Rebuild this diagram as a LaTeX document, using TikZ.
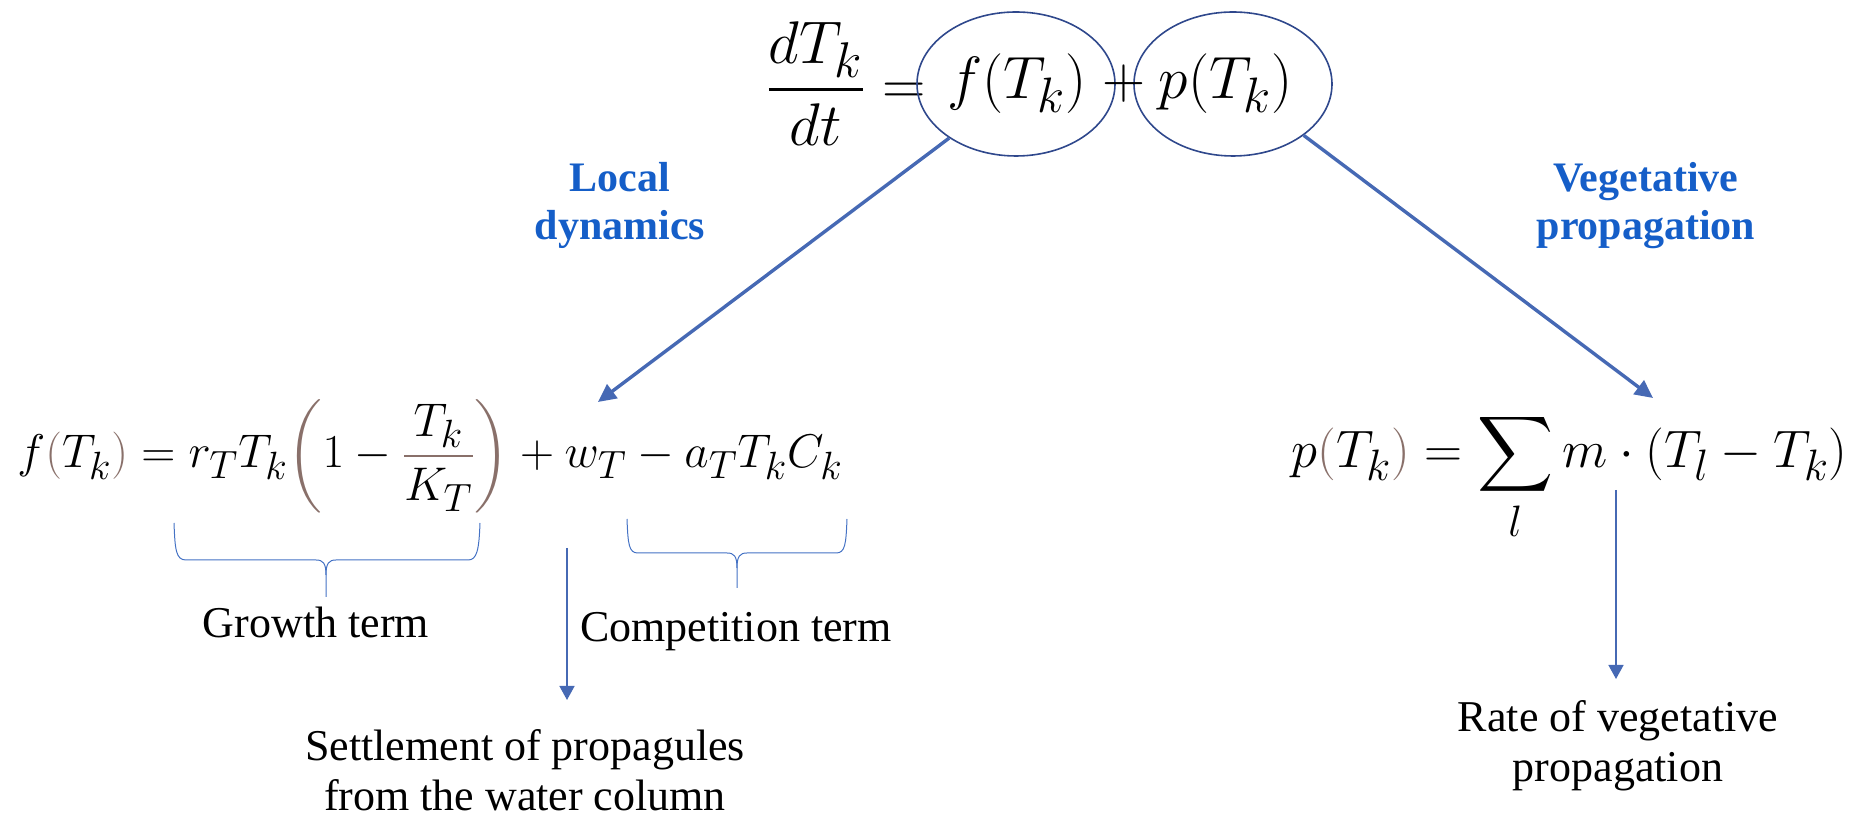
\documentclass[tikz,border=0pt]{standalone}
\usepackage{amsmath}
\usepackage{graphicx}
\usepackage[no-math]{fontspec}
\setmainfont{Liberation Serif}
\usetikzlibrary{arrows.meta,shapes.geometric}
\definecolor{arrowc}{RGB}{70,105,180}
\definecolor{bracec}{RGB}{68,114,196}
\definecolor{ellc}{RGB}{47,72,140}
\definecolor{labblue}{RGB}{21,94,200}
\definecolor{brownc}{RGB}{137,112,106}
\begin{document}
\begin{tikzpicture}[x=0.5pt,y=-0.5pt,
  mathnode/.style={inner sep=0pt,font=\fontsize{24.88}{30}\selectfont},
  oval/.style={ellipse,draw=ellc,line width=0.8pt,minimum width=99pt,minimum height=72pt,inner sep=0pt},
  bigarrow/.style={draw=arrowc,line width=1.7pt,-{Triangle[length=9pt,width=8.5pt]}},
  thinarrow/.style={draw=arrowc,line width=0.75pt,-{Triangle[length=7pt,width=7.5pt]}},
  brace/.style={draw=bracec,line width=0.5pt},
  bluelab/.style={inner sep=0pt,align=center,text=labblue,font=\fontsize{21}{24}\selectfont\bfseries},
  lab/.style={inner sep=0pt,align=center,font=\fontsize{22}{25}\selectfont}]
\useasboundingbox (0,0) rectangle (1860,822);

% top equation
\node[mathnode,anchor=east] (lhs) at (926,84) {\scalebox{1.21}{$\dfrac{dT_k}{dt}=$}};
\node[oval] (E1) at (1016,84) {};
\node[oval] (E2) at (1233,84) {};
\node[mathnode] (fT) at (1017,84) {\scalebox{1.2}{$f(T_k)$}};
\node[mathnode] (plus) at (1124,84) {\scalebox{1.2}{$+$}};
\node[mathnode] (pT) at (1226,84) {\scalebox{1.2}{$p(T_k)$}};

% side labels (anchor = baseline of last line)
\node[bluelab,anchor=base] (loc) at (620,240) {Local\\dynamics};
\node[bluelab,anchor=base] (veg) at (1646,240) {Vegetative\\propagation};

% main arrows
\coordinate (ltip) at (598,402);
\coordinate (rtip) at (1653,398);
\draw[bigarrow] (E1.219) -- (ltip);
\draw[bigarrow] (E2.-36) -- (rtip);

% left equation
\node[mathnode,anchor=base west] (feq) at (17,468)
 {\scalebox{0.95}{$f\textcolor{brownc}{(}T_k\textcolor{brownc}{)} = r_T T_k {\color{brownc}\left(\color{black} 1-{\color{brownc}\dfrac{\color{black}T_k}{\color{black}K_T}}\color{brownc}\right)} + w_T - a_T T_k C_k$}};

% right equation
\node[mathnode,anchor=base east] (peq) at (1848,468)
 {\scalebox{1.06}{$p\textcolor{brownc}{(}T_k\textcolor{brownc}{)} = \displaystyle\sum_l m\cdot(T_l - T_k)$}};

% braces
\draw[brace] (174,523) .. controls (175,550) and (176,560) .. (186,560) -- (316,560) .. controls (323,560) and (326,563) .. (326,575) -- (326,597);
\draw[brace] (326,575) .. controls (326,563) and (329,560) .. (336,560) -- (468,560) .. controls (477,560) and (479,550) .. (480,523);
\draw[brace] (627,519) .. controls (628,545) and (629,553) .. (638,553) -- (727,553) .. controls (734,553) and (737,556) .. (737,568) -- (737,588);
\draw[brace] (737,568) .. controls (737,556) and (740,553) .. (747,553) -- (836,553) .. controls (845,553) and (846,545) .. (847,519);

% labels
\node[lab,anchor=base] (grow) at (316,638) {Growth term};
\node[lab,anchor=base] (comp) at (736,642) {Competition term};
\node[lab,anchor=base] (settle) at (525,811) {Settlement of propagules\\from the water column};
\node[lab,anchor=base] (rate) at (1618,782) {Rate of vegetative\\propagation};

% down arrows
\coordinate (wtop) at (567,548);
\coordinate (wtip) at (567,700);
\coordinate (mtop) at (1616,490);
\coordinate (mtip) at (1616,679);
\draw[thinarrow] (wtop) -- (wtip);
\draw[thinarrow] (mtop) -- (mtip);
\end{tikzpicture}
\end{document}
